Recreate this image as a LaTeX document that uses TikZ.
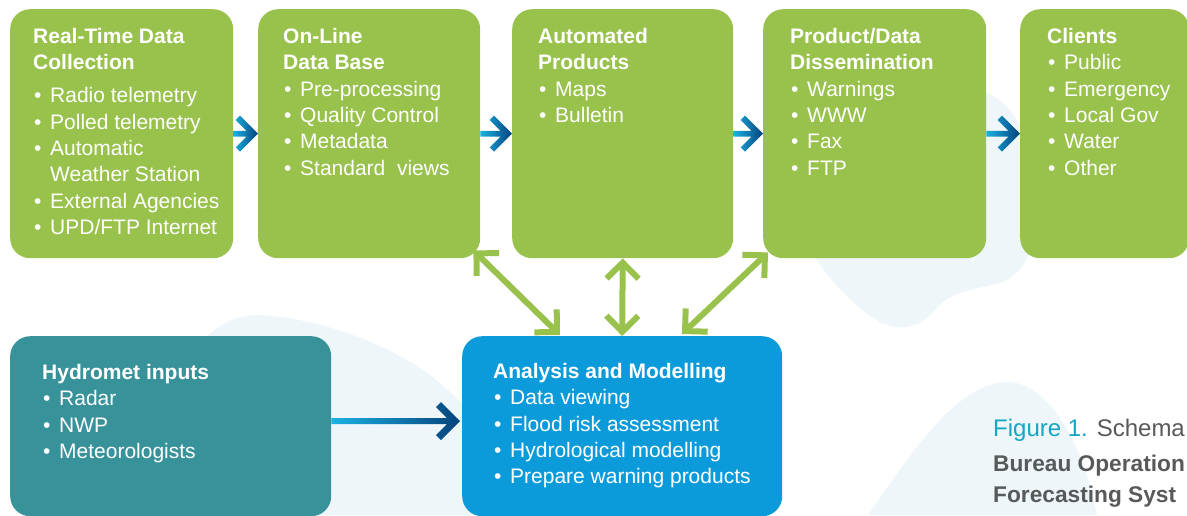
\documentclass[tikz,border=0pt]{standalone}
\usepackage{fontspec}
\setmainfont{Liberation Sans}
\usetikzlibrary{arrows.meta,calc}
\definecolor{grn}{HTML}{99C24D}
\definecolor{teal}{HTML}{38929A}
\definecolor{anablue}{HTML}{0C9BDA}
\definecolor{blob}{HTML}{EEF6F9}
\definecolor{arrA}{HTML}{1BB1E2}
\definecolor{arrB}{HTML}{05427C}
\definecolor{capteal}{HTML}{14A6C4}
\definecolor{capgray}{HTML}{58595B}
\newcommand\itm[1]{\makebox[17pt][l]{\hspace{1pt}\textbullet}#1}
\newcommand\cont[1]{\hspace*{17pt}#1}
\newcommand\fl{\rule{0pt}{20pt}}
% gradient arrow: #1 from, #2 to, #3 head reach, #4 shaft half thickness, #5 chevron offset, #6 shading
\newcommand\gradarrow[6]{%
  \shade[#6] let \p1=#1, \p2=#2 in
   (\x1,{\y1-#4}) -- ({\x2-#5},{\y1-#4}) -- ({\x2-#5},{\y1+#4}) -- (\x1,{\y1+#4}) -- cycle
   (\x2,\y2) -- ({\x2-#3},{\y2+#3}) -- ({\x2-#3-#5},{\y2+#3-#5}) -- ({\x2-2*#5},\y2)
   -- ({\x2-#3-#5},{\y2-#3+#5}) -- ({\x2-#3},{\y2-#3}) -- cycle;}
\begin{document}
\begin{tikzpicture}[x=1pt,y=-1pt,
  box/.style={rounded corners=20pt, inner sep=0pt, anchor=north west, draw=none},
  txt/.style={anchor=north west, inner sep=0pt, align=left, text=white,
    font=\fontsize{21}{26.4}\selectfont},
  dbl/.style={draw=grn, line width=6pt,
    {Straight Barb[length=16pt,width=32pt,sharp]}-{Straight Barb[length=16pt,width=32pt,sharp]}}]
\useasboundingbox (0,0) rectangle (1187,515);
\clip (0,0) rectangle (1187,515);
% background blobs
\fill[blob] (850,200) .. controls (870,120) and (930,85) .. (975,90)
  .. controls (1010,95) and (1030,130) .. (1035,190)
  .. controls (1038,240) and (1030,272) .. (1000,283)
  .. controls (970,290) and (950,292) .. (935,310)
  .. controls (920,328) and (900,332) .. (880,322)
  .. controls (850,305) and (820,270) .. (805,240) -- cycle;
\fill[blob] (868,515) .. controls (910,455) and (955,385) .. (1005,382)
  .. controls (1050,380) and (1085,450) .. (1097,515) -- cycle;
\fill[blob] (200,345) .. controls (215,325) and (235,315) .. (260,315)
  .. controls (320,318) and (390,345) .. (430,375)
  .. controls (450,390) and (470,410) .. (480,430) -- (480,515) -- (190,515) -- cycle;
% boxes
\node[box, fill=grn, minimum width=223pt, minimum height=249pt] (rt) at (10,9) {};
\node[box, fill=grn, minimum width=222pt, minimum height=249pt] (onl) at (258,9) {};
\node[box, fill=grn, minimum width=221pt, minimum height=249pt] (aut) at (512,9) {};
\node[box, fill=grn, minimum width=223pt, minimum height=249pt] (prd) at (763,9) {};
\node[box, fill=grn, minimum width=169pt, minimum height=249pt] (cli) at (1020,9) {};
\node[box, fill=teal, minimum width=321pt, minimum height=180pt] (hyd) at (10,336) {};
\node[box, fill=anablue, minimum width=320pt, minimum height=180pt] (ana) at (462,336) {};
% texts
\node[txt] (rtT) at (33,23) {\fl\textbf{Real-Time Data}\\\textbf{Collection}\\[6.6pt]
  \itm{Radio telemetry}\\\itm{Polled telemetry}\\\itm{Automatic}\\\cont{Weather Station}\\
  \itm{External Agencies}\\\itm{UPD/FTP Internet}};
\node[txt] (onlT) at (283,23) {\fl\textbf{On-Line}\\\textbf{Data Base}\\
  \itm{Pre-processing}\\\itm{Quality Control}\\\itm{Metadata}\\\itm{Standard\ \ views}};
\node[txt] (autT) at (538,23) {\fl\textbf{Automated}\\\textbf{Products}\\
  \itm{Maps}\\\itm{Bulletin}};
\node[txt] (prdT) at (790,23) {\fl\textbf{Product/Data}\\\textbf{Dissemination}\\
  \itm{Warnings}\\\itm{WWW}\\\itm{Fax}\\\itm{FTP}};
\node[txt] (cliT) at (1047,23) {\fl\textbf{Clients}\\
  \itm{Public}\\\itm{Emergency}\\\itm{Local Gov}\\\itm{Water}\\\itm{Other}};
\node[txt] (hydT) at (42,359) {\fl\textbf{Hydromet inputs}\\
  \itm{Radar}\\\itm{NWP}\\\itm{Meteorologists}};
\node[txt] (anaT) at (493,358) {\fl\textbf{Analysis and Modelling}\\
  \itm{Data viewing}\\\itm{Flood risk assessment}\\\itm{Hydrological modelling}\\
  \itm{Prepare warning products}};
% caption
\node[anchor=north west, inner sep=0pt, align=left, font=\fontsize{24}{35}\selectfont] (cap) at (993,416)
  {\fl\textcolor{capteal}{Figure 1.} \textcolor{capgray}{Schema}\\
   {\fontsize{22.7}{35}\selectfont\textcolor{capgray}{\textbf{Bureau Operation}}}\\[-4pt]
   {\fontsize{22.7}{35}\selectfont\textcolor{capgray}{\textbf{Forecasting Syst}}}};
% horizontal gradient arrows
\gradarrow{(rt.east)}{(onl.west)}{18pt}{2.8pt}{4.3pt}{left color=arrA, right color=arrB}
\gradarrow{(onl.east)}{(aut.west)}{18pt}{2.8pt}{4.3pt}{left color=arrA, right color=arrB}
\gradarrow{(aut.east)}{(prd.west)}{18pt}{2.8pt}{4.3pt}{left color=arrA, right color=arrB}
\gradarrow{(prd.east)}{(cli.west)}{18pt}{2.8pt}{4.3pt}{left color=arrA, right color=arrB}
\gradarrow{($(hyd.north east)+(0,85)$)}{($(ana.north west)+(-2,85)$)}{19pt}{3pt}{5pt}{left color=arrA, middle color=arrA!70!arrB, right color=arrB}
% double arrows
\draw[dbl] ($(onl.south east)+(-7,-8)$) -- ($(ana.north west)+(98,-1)$);
\draw[dbl] (aut.south) -- (ana.north);
\draw[dbl] ($(prd.south west)+(5,-6)$) -- ($(ana.north west)+(220,-2)$);
\end{tikzpicture}
\end{document}
